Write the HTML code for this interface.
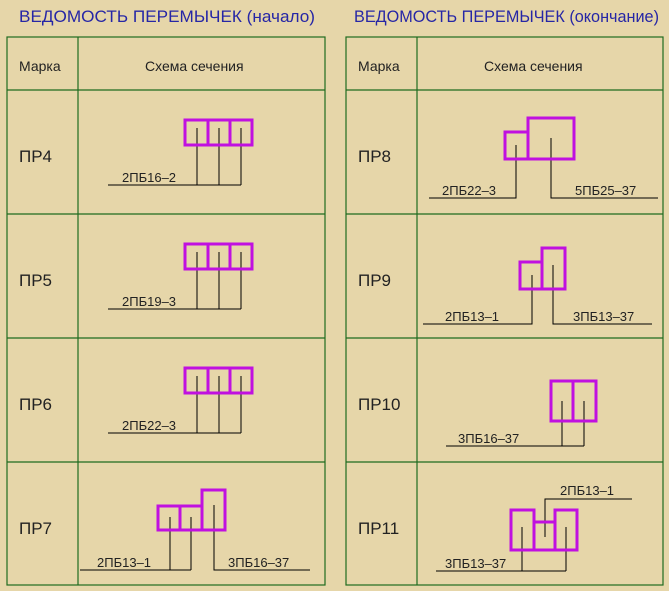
<!DOCTYPE html>
<html><head><meta charset="utf-8"><style>
html,body{margin:0;padding:0;background:#e6d6a9;}
svg{display:block}
text{font-family:"Liberation Sans",sans-serif;}
</style></head><body>
<svg width="669" height="591" viewBox="0 0 669 591" xmlns="http://www.w3.org/2000/svg">
<rect width="669" height="591" fill="#e6d6a9"/>
<g font-size="17" fill="#2626a6">
<text x="19" y="22" textLength="296" lengthAdjust="spacingAndGlyphs">ВЕДОМОСТЬ ПЕРЕМЫЧЕК (начало)</text>
<text x="354" y="22" textLength="305" lengthAdjust="spacingAndGlyphs">ВЕДОМОСТЬ ПЕРЕМЫЧЕК (окончание)</text>
</g>
<g stroke="#1f6b1f" stroke-width="1.2" fill="none">
<rect x="7" y="37" width="318" height="548"/>
<line x1="78" y1="37" x2="78" y2="585"/>
<line x1="7" y1="90" x2="325" y2="90"/>
<line x1="7" y1="214" x2="325" y2="214"/>
<line x1="7" y1="338" x2="325" y2="338"/>
<line x1="7" y1="462" x2="325" y2="462"/>
<rect x="346" y="37" width="317" height="548"/>
<line x1="417" y1="37" x2="417" y2="585"/>
<line x1="346" y1="90" x2="663" y2="90"/>
<line x1="346" y1="214" x2="663" y2="214"/>
<line x1="346" y1="338" x2="663" y2="338"/>
<line x1="346" y1="462" x2="663" y2="462"/>
</g>
<g font-size="14" fill="#222">
<text x="19" y="71">Марка</text>
<text x="145" y="71">Схема сечения</text>
<text x="358" y="71">Марка</text>
<text x="484" y="71">Схема сечения</text>
</g>
<g font-size="17" fill="#222">
<text x="19" y="162">ПР4</text>
<text x="19" y="286">ПР5</text>
<text x="19" y="410">ПР6</text>
<text x="19" y="534">ПР7</text>
<text x="358" y="162">ПР8</text>
<text x="358" y="286">ПР9</text>
<text x="358" y="410">ПР10</text>
<text x="358" y="534">ПР11</text>
</g>
<g stroke="#000" stroke-width="1" fill="none">
<path d="M197 128V185M219 128V185M241 128V185M108 185H241"/>
<path d="M197 252V309M219 252V309M241 252V309M108 309H241"/>
<path d="M197 376V433M219 376V433M241 376V433M108 433H241"/>
<path d="M170 517V570M191 517V570M80 570H191M214 505V570H310"/>
<path d="M516 145V198H429M551 138V198H658"/>
<path d="M532 275V324H423M553 265V324H652"/>
<path d="M562 401V446M584 401V446M446 446H584"/>
<path d="M522 527V571M566 527V571M436 571H566M545 537V499H632"/>
</g>
<g stroke="#c010e0" stroke-width="3" fill="none">
<rect x="185" y="120" width="67" height="25"/><path d="M208 120V145M230 120V145"/>
<rect x="185" y="244" width="67" height="25"/><path d="M208 244V269M230 244V269"/>
<rect x="185" y="368" width="67" height="25"/><path d="M208 368V393M230 368V393"/>
<rect x="158" y="506" width="44" height="24"/><path d="M180 506V530"/><rect x="202" y="490" width="23" height="40"/>
<rect x="505" y="132" width="23" height="27"/><rect x="528" y="118" width="46" height="41"/>
<rect x="520" y="262" width="22" height="27"/><rect x="542" y="248" width="23" height="41"/>
<rect x="551" y="381" width="45" height="40"/><path d="M573 381V421"/>
<rect x="511" y="510" width="23" height="40"/><rect x="555" y="510" width="22" height="40"/><path d="M534 522H555M534 550H555"/>
</g>
<g font-size="13" fill="#222">
<text x="122" y="182">2ПБ16–2</text>
<text x="122" y="306">2ПБ19–3</text>
<text x="122" y="430">2ПБ22–3</text>
<text x="97" y="567">2ПБ13–1</text>
<text x="228" y="567">3ПБ16–37</text>
<text x="442" y="195">2ПБ22–3</text>
<text x="575" y="195">5ПБ25–37</text>
<text x="445" y="321">2ПБ13–1</text>
<text x="573" y="321">3ПБ13–37</text>
<text x="458" y="443">3ПБ16–37</text>
<text x="560" y="495">2ПБ13–1</text>
<text x="445" y="568">3ПБ13–37</text>
</g>
</svg>
</body></html>
